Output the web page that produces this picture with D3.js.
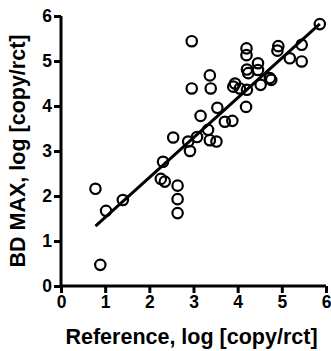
<!DOCTYPE html>
<html>
<head>
<meta charset="utf-8">
<script src="https://cdn.jsdelivr.net/npm/d3@7"></script>
<style>
  body { margin: 0; background: #fff; }
  text { font-family: "Liberation Sans", Arial, sans-serif; font-weight: bold; }
</style>
</head>
<body>
<div id="chart"></div>
<script>
(function() {

    // reference (x) vs BD MAX (y), log copies per reaction
    var refVals = [0.78, 0.89, 1.02, 1.40, 2.26, 2.35, 2.31, 2.64, 2.64, 2.64,
                   2.54, 2.88, 2.92, 3.08, 3.16, 3.33, 3.37, 3.52, 3.54, 3.71,
                   3.88, 2.96, 2.96, 3.37, 3.39, 3.94, 3.90, 4.05, 4.21, 4.19,
                   4.20, 4.20, 4.21, 4.24, 4.46, 4.46, 4.52, 4.73, 4.76, 4.90,
                   4.92, 5.18, 5.45, 5.45, 5.86];
    var bdVals  = [2.16, 0.47, 1.67, 1.91, 2.38, 2.32, 2.76, 2.23, 1.93, 1.62,
                   3.30, 3.21, 3.00, 3.31, 3.78, 3.47, 3.24, 3.21, 3.96, 3.65,
                   3.67, 5.44, 4.39, 4.68, 4.39, 4.50, 4.43, 4.39, 4.36, 3.98,
                   5.28, 5.13, 4.81, 4.73, 4.95, 4.80, 4.47, 4.62, 4.58, 5.23,
                   5.33, 5.06, 5.36, 4.99, 5.82];
    var fitLine = { slope: 0.885, intercept: 0.64 };
    var tickVals = [0, 1, 2, 3, 4, 5, 6];

    var width = 331;
    var height = 351;
    var margin = {left: 61, right: 5, top: 16, bottom: 65};

    var svg = d3.select("#chart").append("svg")
        .attr("width", width)
        .attr("height", height);

    var x = d3.scaleLinear().domain([0, 6]).range([margin.left, width - margin.right]);
    var y = d3.scaleLinear().domain([0, 6]).range([height - margin.bottom, margin.top]);

    var points = refVals.map(function(d, i) { return {x: d, y: bdVals[i]}; });

    // regression line over the data range
    var xMin = d3.min(refVals), xMax = d3.max(refVals);
    svg.append("line")
        .attr("x1", x(xMin))
        .attr("y1", y(fitLine.intercept + fitLine.slope * xMin))
        .attr("x2", x(xMax))
        .attr("y2", y(fitLine.intercept + fitLine.slope * xMax))
        .attr("stroke", "#000")
        .attr("stroke-width", 3);

    svg.selectAll("circle")
        .data(points)
        .enter().append("circle")
        .attr("cx", function(d) { return x(d.x); })
        .attr("cy", function(d) { return y(d.y); })
        .attr("r", 5.2)
        .attr("fill", "none")
        .attr("stroke", "#000")
        .attr("stroke-width", 2.2);

    var xAxis = svg.append("g")
        .attr("transform", "translate(0," + y(0) + ")")
        .call(d3.axisBottom(x).tickValues(tickVals).tickSize(7).tickPadding(3).tickFormat(d3.format("d")));
    var yAxis = svg.append("g")
        .attr("transform", "translate(" + x(0) + ",0)")
        .call(d3.axisLeft(y).tickValues(tickVals).tickSize(7).tickPadding(2).tickFormat(d3.format("d")));

    [xAxis, yAxis].forEach(function(g) {
        g.select(".domain").attr("stroke-width", 3);
        g.selectAll(".tick line").attr("stroke-width", 3);
        g.selectAll(".tick text")
            .attr("font-size", 17.5)
            .attr("font-family", "Liberation Sans, Arial, sans-serif")
            .attr("font-weight", "bold")
            .attr("fill", "#000");
    });
    xAxis.select(".domain").attr("d", "M" + x(0) + ",0H" + x(6));
    yAxis.select(".domain").attr("d", "M0," + y(0) + "V" + y(6));

    svg.append("text")
        .attr("x", (x(0) + x(6)) / 2 - 2)
        .attr("y", 344)
        .attr("text-anchor", "middle")
        .attr("font-size", 21.5)
        .text("Reference, log [copy/rct]");

    svg.append("text")
        .attr("transform", "translate(25," + ((y(0) + y(6)) / 2) + ") rotate(-90)")
        .attr("text-anchor", "middle")
        .attr("font-size", 21.5)
        .text("BD MAX, log [copy/rct]");

})();
</script>
</body>
</html>
